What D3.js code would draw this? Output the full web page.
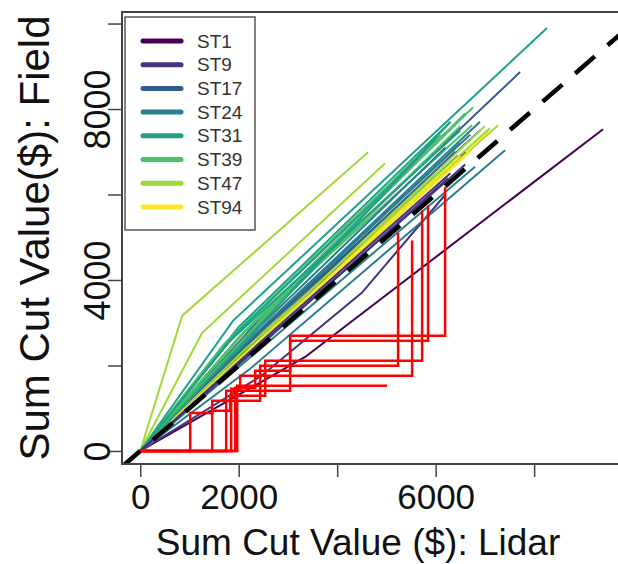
<!DOCTYPE html>
<html>
<head>
<meta charset="utf-8">
<script src="https://cdn.jsdelivr.net/npm/d3@7"></script>
<style>
  body { margin: 0; background: #fff; }
  svg { display: block; font-family: "Liberation Sans", Arial, sans-serif; }
</style>
</head>
<body>
<svg id="chart" width="618" height="564"></svg>
<script>
// stands shown in the legend
let stands = ['ST1', 'ST9', 'ST17', 'ST24', 'ST31', 'ST39', 'ST47', 'ST94']

// coloured cumulative lines: stand, lidar values, field values
let lineStand = ['ST1', 'ST9', 'ST31', 'ST17', 'ST39', 'ST39', 'ST47', 'ST24', 'ST39', 'ST47',
                 'ST24', 'ST94', 'ST17', 'ST31', 'ST24', 'ST9', 'ST47', 'ST47',
                 'ST39', 'ST39', 'ST31', 'ST31', 'ST24', 'ST24', 'ST17', 'ST17', 'ST39', 'ST39',
                 'ST47', 'ST47', 'ST94', 'ST94', 'ST24', 'ST31', 'ST31', 'ST9', 'ST9']
let lineLidar = [
    [0, 3350, 9399],
    [0, 2450, 4500, 6200],
    [0, 1888, 8262],
    [0, 2436, 7714],
    [0, 2132, 6760],
    [0, 2030, 6740],
    [0, 2233, 7267],
    [0, 2233, 6496],
    [0, 2335, 6455],
    [0, 2335, 6963],
    [0, 2233, 7410],
    [0, 2000, 7100],
    [0, 2200, 6600],
    [0, 2000, 6300],
    [0, 2300, 6900],
    [0, 2500, 6600],
    [0, 853, 4628],
    [0, 1259, 4974],
    [0, 1700, 6100],
    [0, 2800, 6600],
    [0, 1950, 5800],
    [0, 2950, 6300],
    [0, 2150, 6200],
    [0, 2600, 6700],
    [0, 2300, 6400],
    [0, 2550, 6900],
    [0, 2050, 6200],
    [0, 2600, 6500],
    [0, 2100, 7100],
    [0, 2500, 7000],
    [0, 2300, 6700],
    [0, 2450, 6500],
    [0, 2400, 6800],
    [0, 1800, 6500],
    [0, 2600, 6000],
    [0, 2300, 6300],
    [0, 2350, 6250]
]
let lineField = [
    [0, 2200, 7527],
    [0, 1750, 3700, 6000],
    [0, 3049, 9896],
    [0, 3095, 8864],
    [0, 2814, 8043],
    [0, 2697, 7621],
    [0, 2462, 7621],
    [0, 2580, 7199],
    [0, 2580, 6918],
    [0, 2345, 7340],
    [0, 1923, 7035],
    [0, 2150, 7500],
    [0, 2400, 7000],
    [0, 2900, 7700],
    [0, 2700, 7700],
    [0, 2550, 6700],
    [0, 3166, 6988],
    [0, 2767, 6730],
    [0, 2500, 7400],
    [0, 3500, 7900],
    [0, 2750, 7000],
    [0, 3600, 7700],
    [0, 2600, 7100],
    [0, 3000, 7400],
    [0, 2550, 7000],
    [0, 2900, 7500],
    [0, 2700, 7450],
    [0, 3200, 7600],
    [0, 2350, 7550],
    [0, 2700, 7600],
    [0, 2450, 7000],
    [0, 2600, 6900],
    [0, 2350, 6650],
    [0, 2550, 7500],
    [0, 3150, 7300],
    [0, 2400, 6500],
    [0, 2380, 6380]
]

// red step lines
let redLidar = [
    [0, 1969, 5014],
    [0, 1847, 2030, 5522],
    [0, 1015, 1462, 2436, 5237],
    [0, 1462, 1827, 2538, 5725],
    [0, 1746, 3045, 5846],
    [0, 1929, 2335, 3045, 6192]
]
let redField = [
    [0, 1524, 1524],
    [0, 1454, 1759, 4925],
    [0, 891, 1173, 1993, 5112],
    [0, 938, 1290, 2111, 5628],
    [0, 1407, 2580, 5745],
    [0, 1477, 1876, 2697, 6167]
]

let xTicks = [0, 2000, 4000, 6000, 8000]
let xTickLabels = ['0', '2000', '', '6000', '']
let yTicks = [0, 2000, 4000, 6000, 8000, 10000]
let yTickLabels = ['0', '', '4000', '', '8000', '']

let svg = d3.select('#chart')

let pLeft = 122, pRight = 640, pTop = 12, pBottom = 464

let x = d3.scaleLinear().domain([-370, 10150]).range([pLeft, pRight])
let y = d3.scaleLinear().domain([-305, 10270]).range([pBottom, pTop])

let color = d3.scaleOrdinal()
    .domain(stands)
    .range(d3.quantize(d3.interpolateViridis, stands.length))

svg.append('clipPath').attr('id', 'plotclip')
   .append('rect')
   .attr('x', pLeft).attr('y', pTop)
   .attr('width', pRight - pLeft).attr('height', pBottom - pTop)

let plot = svg.append('g').attr('clip-path', 'url(#plotclip)')

let line = d3.line()
    .x((d) => x(d[0]))
    .y((d) => y(d[1]))

let stepLine = d3.line()
    .x((d) => x(d[0]))
    .y((d) => y(d[1]))
    .curve(d3.curveStepAfter)

let colouredData = lineStand.map((s, i) => {
    return { stand: s, pts: lineLidar[i].map((v, j) => [v, lineField[i][j]]) }
})

plot.selectAll('path.st')
    .data(colouredData)
    .enter()
    .append('path')
    .attr('class', 'st')
    .attr('d', (d) => line(d.pts))
    .attr('fill', 'none')
    .attr('stroke', (d) => color(d.stand))
    .attr('stroke-width', 2)

let redData = redLidar.map((xs, i) => xs.map((v, j) => [v, redField[i][j]]))

plot.selectAll('path.red')
    .data(redData)
    .enter()
    .append('path')
    .attr('class', 'red')
    .attr('d', (d) => stepLine(d))
    .attr('fill', 'none')
    .attr('stroke', '#ff0000')
    .attr('stroke-width', 2.5)

// 1:1 line
plot.append('path')
    .attr('d', line([[-400, -400], [10500, 10500]]))
    .attr('fill', 'none')
    .attr('stroke', '#000')
    .attr('stroke-width', 4.5)
    .attr('stroke-dasharray', '26,17')

// box
svg.append('rect')
   .attr('x', pLeft).attr('y', pTop)
   .attr('width', pRight - pLeft).attr('height', pBottom - pTop)
   .attr('fill', 'none')
   .attr('stroke', '#444')
   .attr('stroke-width', 2)

// x axis
let xAxis = d3.axisBottom(x)
    .tickValues(xTicks)
    .tickSize(13)
    .tickFormat((d, i) => xTickLabels[i])

let gx = svg.append('g')
    .attr('transform', 'translate(0,' + pBottom + ')')
    .call(xAxis)
gx.select('.domain').remove()
gx.selectAll('.tick line').attr('stroke', '#444').attr('stroke-width', 1.5)
gx.selectAll('.tick text')
  .attr('y', 45)
  .attr('dy', 0)
  .attr('fill', '#111')
  .style('font-size', '35px')

// y axis
let yAxis = d3.axisLeft(y)
    .tickValues(yTicks)
    .tickSize(14)
    .tickFormat((d, i) => yTickLabels[i])

let gy = svg.append('g')
    .attr('transform', 'translate(' + pLeft + ',0)')
    .call(yAxis)
gy.select('.domain').remove()
gy.selectAll('.tick line').attr('stroke', '#444').attr('stroke-width', 1.5)
gy.selectAll('.tick text')
  .attr('x', null).attr('dy', null)
  .attr('transform', 'translate(-12,0) rotate(-90)')
  .attr('text-anchor', 'middle')
  .attr('fill', '#111')
  .style('font-size', '36px')

// titles
svg.append('text')
   .attr('x', 358).attr('y', 555)
   .attr('text-anchor', 'middle')
   .style('font-size', '37px')
   .attr('fill', '#111')
   .text('Sum Cut Value ($): Lidar')

svg.append('text')
   .attr('transform', 'translate(49,' + ((pTop + pBottom) / 2) + ') rotate(-90)')
   .attr('text-anchor', 'middle')
   .style('font-size', '42px')
   .attr('fill', '#111')
   .text('Sum Cut Value($): Field')

// legend
let legend = svg.append('g')
legend.append('rect')
      .attr('x', 125).attr('y', 17)
      .attr('width', 130).attr('height', 213)
      .attr('fill', '#fff')
      .attr('stroke', '#555')
      .attr('stroke-width', 1.5)

let item = legend.selectAll('g.item')
    .data(stands)
    .enter()
    .append('g')
    .attr('class', 'item')
    .attr('transform', (d, i) => 'translate(0,' + (41 + i * 23.7) + ')')

item.append('line')
    .attr('x1', 143).attr('x2', 181)
    .attr('stroke', (d) => color(d))
    .attr('stroke-width', 5)
    .attr('stroke-linecap', 'round')

item.append('text')
    .attr('x', 197)
    .attr('dy', '0.35em')
    .style('font-size', '19px')
    .attr('fill', '#333')
    .text((d) => d)
</script>
</body>
</html>
